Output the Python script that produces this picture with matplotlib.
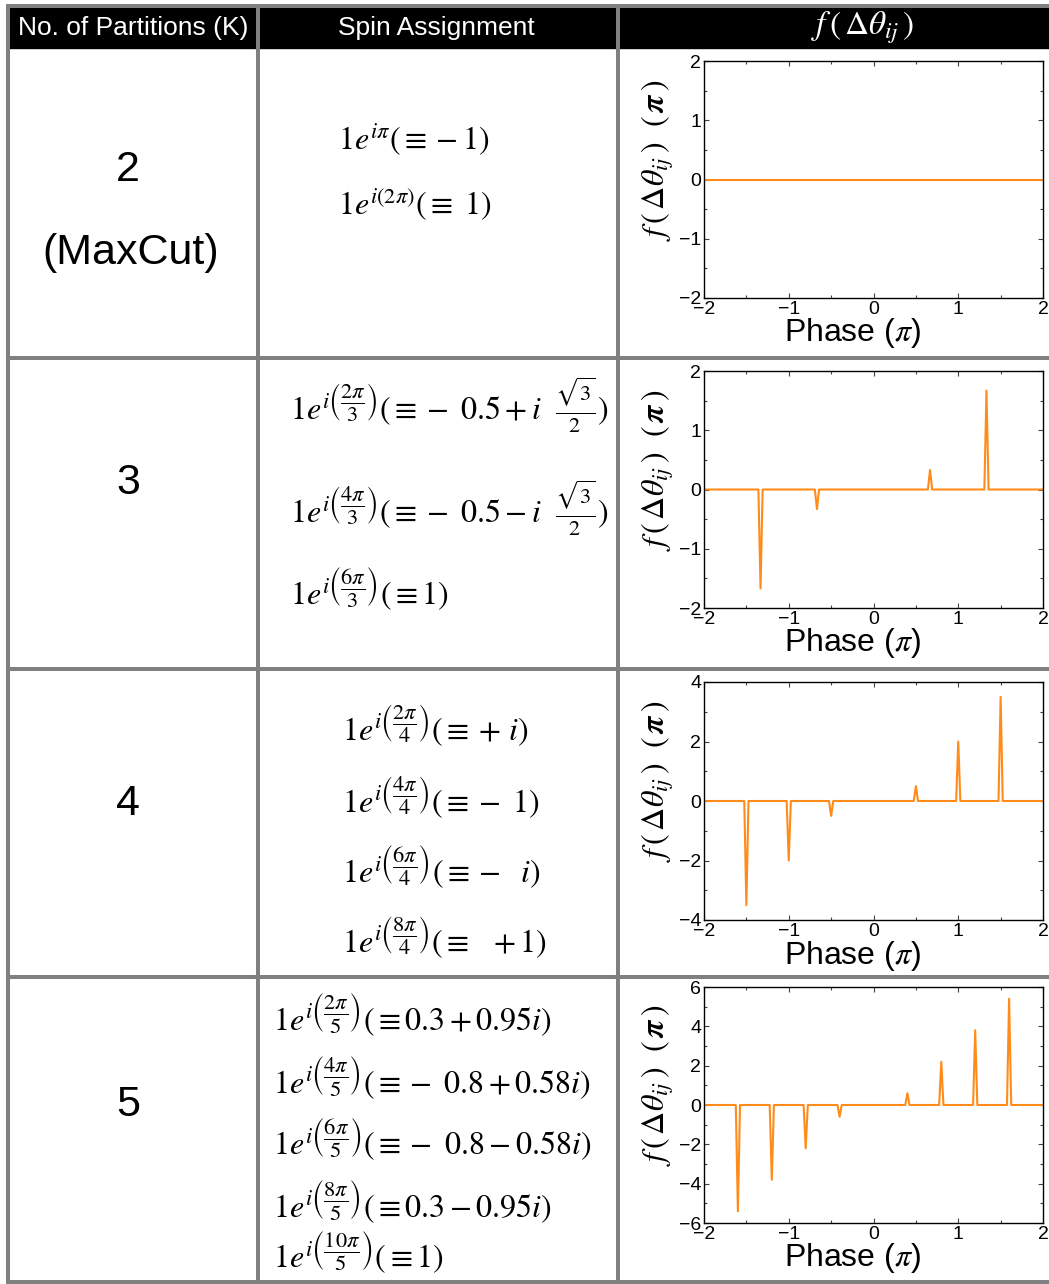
import numpy as np
import matplotlib
matplotlib.use("Agg")
import matplotlib.pyplot as plt
from matplotlib.patches import Rectangle
from matplotlib.ticker import MultipleLocator

plt.rcParams['font.family'] = ['Liberation Sans', 'DejaVu Sans']
plt.rcParams['mathtext.fontset'] = 'stix'
plt.rcParams['axes.unicode_minus'] = True

# tamanho da figura em pixels
W, H = 1049, 1284

# Dados de cada linha da tabela
headers = ['No. of Partitions (K)', 'Spin Assignment', r'$f\,(\,\Delta\theta_{ij}\,)$']
k_values = ['2', '3', '4', '5']

spins_k2 = [r'$1e^{i\pi}(\equiv -1)$',
            r'$1e^{i(2\pi)}(\equiv\ 1)$']
spins_k3 = [r'$1e^{i\left(\dfrac{2\pi}{3}\right)}(\equiv -\ 0.5+i\ \ \frac{\sqrt{3}}{2})$',
            r'$1e^{i\left(\dfrac{4\pi}{3}\right)}(\equiv -\ 0.5-i\ \ \frac{\sqrt{3}}{2})$',
            r'$1e^{i\left(\dfrac{6\pi}{3}\right)}(\equiv 1)$']
spins_k4 = [r'$1e^{i\left(\dfrac{2\pi}{4}\right)}(\equiv +\,i)$',
            r'$1e^{i\left(\dfrac{4\pi}{4}\right)}(\equiv -\ 1)$',
            r'$1e^{i\left(\dfrac{6\pi}{4}\right)}(\equiv -\ \ i)$',
            r'$1e^{i\left(\dfrac{8\pi}{4}\right)}(\equiv\ \ +1)$']
spins_k5 = [r'$1e^{i\left(\dfrac{2\pi}{5}\right)}(\equiv 0.3+0.95i)$',
            r'$1e^{i\left(\dfrac{4\pi}{5}\right)}(\equiv -\ 0.8+0.58i)$',
            r'$1e^{i\left(\dfrac{6\pi}{5}\right)}(\equiv -\ 0.8-0.58i)$',
            r'$1e^{i\left(\dfrac{8\pi}{5}\right)}(\equiv 0.3-0.95i)$',
            r'$1e^{i\left(\dfrac{10\pi}{5}\right)}(\equiv 1)$']

# picos das curvas f(delta theta): posição (pi) e altura (pi)
peaks_x_k2 = []
peaks_y_k2 = []
peaks_x_k3 = [-1.333, -0.667, 0.667, 1.333]
peaks_y_k3 = [-1.67, -0.33, 0.33, 1.67]
peaks_x_k4 = [-1.5, -1.0, -0.5, 0.5, 1.0, 1.5]
peaks_y_k4 = [-3.5, -2.0, -0.5, 0.5, 2.0, 3.5]
peaks_x_k5 = [-1.6, -1.2, -0.8, -0.4, 0.4, 0.8, 1.2, 1.6]
peaks_y_k5 = [-5.4, -3.8, -2.2, -0.6, 0.6, 2.2, 3.8, 5.4]

# Layout (pixels)
col_x = [8, 258, 618]
row_y = [48, 358, 669, 977, 1282]
spin_left = [338, 290, 342, 273]
spin_base = [[150, 214], [420, 523, 605], [740, 812, 883, 952],
             [1030, 1093, 1155, 1217, 1268]]
axes_px = [(704, 61, 1043, 298), (704, 371, 1043, 608),
           (704, 682, 1043, 920), (704, 987, 1043, 1223)]
ylims = [2, 2, 4, 6]
ysteps = [1, 1, 2, 2]

GRAY = '#808080'
ORANGE = '#ff8c1a'


def curva(px, py, hw=0.025):
    # monta a linha com picos triangulares estreitos
    xs, ys = [-2.0], [0.0]
    for c, h in zip(px, py):
        xs += [c - hw, c, c + hw]
        ys += [0.0, h, 0.0]
    xs.append(2.0)
    ys.append(0.0)
    return xs, ys


fig = plt.figure(figsize=(W / 100, H / 100), dpi=100)
bg = fig.add_axes([0, 0, 1, 1])
bg.set_xlim(0, W)
bg.set_ylim(H, 0)
bg.axis('off')

# Cabeçalho preto
bg.add_patch(Rectangle((col_x[0], 6), W - col_x[0], row_y[0] - 6, color='black', zorder=1))

# Linhas da tabela
lw = 2.9
bg.plot([col_x[0] - 1.5, W], [5.5, 5.5], color=GRAY, lw=lw, solid_capstyle='butt', zorder=3)
for y in row_y[1:]:
    bg.plot([col_x[0] - 1.5, W], [y, y], color=GRAY, lw=lw, solid_capstyle='butt', zorder=3)
for x in col_x:
    bg.plot([x, x], [4, row_y[-1] + 1.5], color=GRAY, lw=lw, solid_capstyle='butt', zorder=3)

# Textos do cabeçalho
head_cx = [133, 436, 863]
for txt, cx in zip(headers, head_cx):
    bg.text(cx, 28, txt, color='white', fontsize=19 if '$' not in txt else 24,
            ha='center', va='center', zorder=4)

# Coluna K
bg.text(128, 170, '2', fontsize=31, ha='center', va='center')
bg.text(131, 253, '(MaxCut)', fontsize=31, ha='center', va='center')
for k, y in zip(k_values[1:], [483, 804, 1105]):
    bg.text(128, y, k, fontsize=31, ha='center', va='center')

# Coluna das atribuições de spin
all_spins = [spins_k2, spins_k3, spins_k4, spins_k5]
for spins, x0, bases in zip(all_spins, spin_left, spin_base):
    for s, yb in zip(spins, bases):
        bg.text(x0, yb, s, fontsize=23, ha='left', va='baseline')

# Gráficos
all_px = [peaks_x_k2, peaks_x_k3, peaks_x_k4, peaks_x_k5]
all_py = [peaks_y_k2, peaks_y_k3, peaks_y_k4, peaks_y_k5]
for (l, t, r, b), px, py, yl, ys in zip(axes_px, all_px, all_py, ylims, ysteps):
    ax = fig.add_axes([l / W, 1 - b / H, (r - l) / W, (b - t) / H])
    xs, yv = curva(px, py)
    ax.plot(xs, yv, color=ORANGE, lw=1.5)
    ax.set_xlim(-2, 2)
    ax.set_ylim(-yl, yl)
    ax.xaxis.set_major_locator(MultipleLocator(1))
    ax.xaxis.set_minor_locator(MultipleLocator(0.5))
    ax.yaxis.set_major_locator(MultipleLocator(ys))
    ax.yaxis.set_minor_locator(MultipleLocator(ys / 2))
    ax.tick_params(which='both', direction='in', top=True, right=True,
                   labelsize=14, color='#444444', width=0.8)
    ax.tick_params(which='major', length=3.5, pad=2)
    ax.tick_params(which='minor', length=2)
    for sp in ax.spines.values():
        sp.set_linewidth(1.0)
    ax.text(-0.135, 0.582, r'$f\,(\,\Delta\theta_{ij}\,)\ \ (\,\boldsymbol{\pi}\,)$', fontsize=23,
            rotation=90, ha='center', va='center', transform=ax.transAxes)
    ax.text(0.437, -0.183, r'Phase ($\pi$)', fontsize=23, ha='center', va='baseline',
            transform=ax.transAxes)

fig.savefig('out.png', dpi=100)
